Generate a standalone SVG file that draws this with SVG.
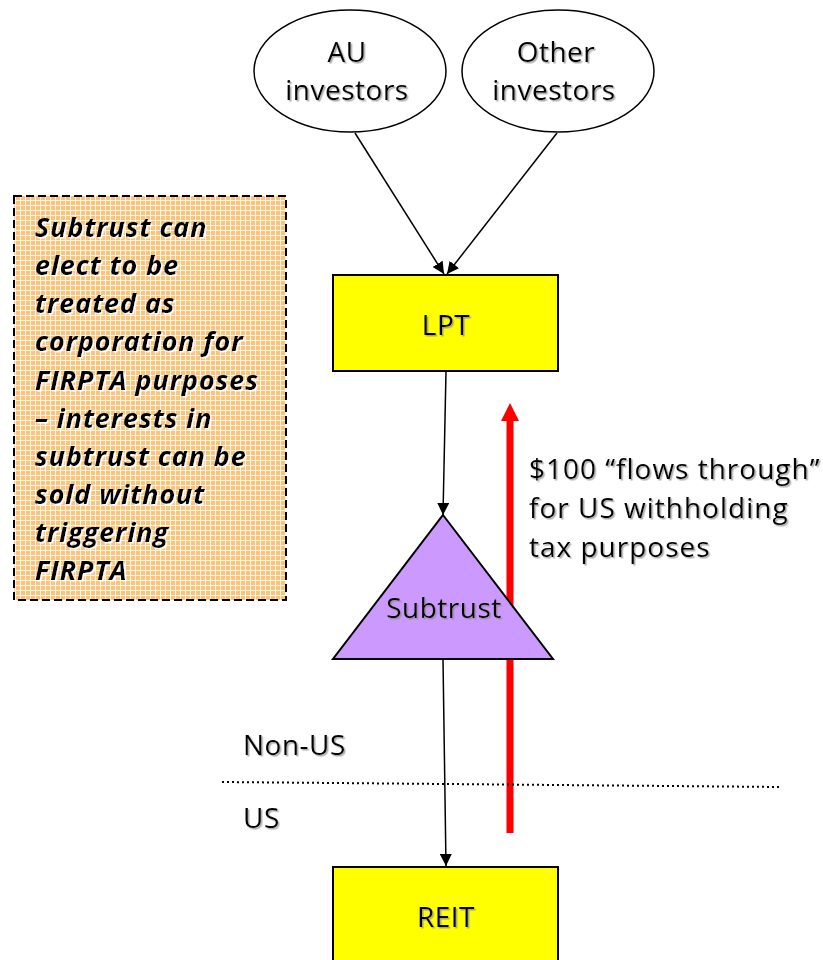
<svg xmlns="http://www.w3.org/2000/svg" width="823" height="960" viewBox="0 0 823 960">
  <defs>
    <style>
      .lbl { font-family: "Open Sans", "Noto Sans", sans-serif; font-size: 28px; letter-spacing: 0.5px; fill: #000; }
      .flow { letter-spacing: 1px; }
      .mid { text-anchor: middle; }
      .note { font-family: "Open Sans", "Noto Sans", sans-serif; font-size: 27px; letter-spacing: 0.9px; font-weight: bold; font-style: italic; fill: #000; }
      .edge { stroke: #000; stroke-width: 1.5; fill: none; }
      .box { stroke: #000; stroke-width: 2; }
    </style>
    <filter id="shadow" x="-10%" y="-20%" width="130%" height="150%">
      <feDropShadow dx="1.5" dy="1.5" stdDeviation="0.6" flood-color="#888" flood-opacity="0.7"/>
    </filter>
    <filter id="halo" x="-10%" y="-20%" width="130%" height="150%">
      <feDropShadow dx="1.5" dy="1.5" stdDeviation="0.4" flood-color="#fff" flood-opacity="1"/>
    </filter>
    <pattern id="grid" width="5" height="5" patternUnits="userSpaceOnUse">
      <rect width="5" height="5" fill="#FBC47C"/>
      <path d="M0 0.5H5M0.5 0V5" stroke="#FFF6E8" stroke-width="1"/>
    </pattern>
    <marker id="arrow" viewBox="0 0 12 12" refX="12" refY="6" markerWidth="12" markerHeight="12" markerUnits="userSpaceOnUse" orient="auto">
      <path d="M0 0L12 6L0 12Z" fill="#000"/>
    </marker>
  </defs>

  <rect width="823" height="960" fill="#fff"/>

  <!-- connectors -->
  <g id="connectors">
    <path class="edge" d="M355 133L444 274" marker-end="url(#arrow)"/>
    <path class="edge" d="M557 133L447 274" marker-end="url(#arrow)"/>
    <path class="edge" d="M446 371L443 515" marker-end="url(#arrow)"/>
    <path class="edge" d="M443 659L446 866" marker-end="url(#arrow)"/>
    <!-- red flow arrow -->
    <path d="M510 833V420" stroke="#FF0000" stroke-width="7" fill="none"/>
    <path d="M501 421L510 403L519 421Z" fill="#FF0000"/>
    <!-- jurisdiction border -->
    <path d="M222 782L780 787" stroke="#000" stroke-width="2" stroke-dasharray="2 3" fill="none"/>
  </g>

  <g id="au-investors">
    <ellipse cx="350" cy="71" rx="96" ry="61" fill="#fff" stroke="#000" stroke-width="1.5"/>
    <text class="lbl mid" x="347" y="62" filter="url(#shadow)">AU</text>
    <text class="lbl mid" x="347" y="100" filter="url(#shadow)">investors</text>
  </g>

  <g id="other-investors">
    <ellipse cx="558" cy="71" rx="96" ry="61" fill="#fff" stroke="#000" stroke-width="1.5"/>
    <text class="lbl mid" x="556" y="62" filter="url(#shadow)">Other</text>
    <text class="lbl mid" x="554" y="100" filter="url(#shadow)">investors</text>
  </g>

  <g id="lpt">
    <rect class="box" x="333" y="275" width="225" height="96" fill="#FFFF00"/>
    <text class="lbl mid" x="446" y="335" filter="url(#shadow)">LPT</text>
  </g>

  <g id="subtrust">
    <path class="box" d="M443 515L553 659H333Z" fill="#CC99FF"/>
    <text class="lbl mid" x="444" y="618" filter="url(#shadow)">Subtrust</text>
  </g>

  <g id="reit">
    <rect class="box" x="333" y="867" width="225" height="100" fill="#FFFF00"/>
    <text class="lbl mid" x="446" y="927" filter="url(#shadow)">REIT</text>
  </g>

  <g id="flow-label">
    <text class="lbl flow" x="529" y="479" filter="url(#shadow)">$100 “flows through”</text>
    <text class="lbl flow" x="529" y="518" filter="url(#shadow)">for US withholding</text>
    <text class="lbl flow" x="529" y="557" filter="url(#shadow)">tax purposes</text>
  </g>

  <g id="region-labels">
    <text class="lbl" x="243" y="755" filter="url(#shadow)">Non-US</text>
    <text class="lbl" x="243" y="828" filter="url(#shadow)">US</text>
  </g>

  <g id="firpta-note">
    <rect x="14" y="196" width="272" height="404" fill="url(#grid)" stroke="#000" stroke-width="2" stroke-dasharray="8 4"/>
    <g class="note" filter="url(#halo)">
      <text x="35" y="237">Subtrust can</text>
      <text x="35" y="275">elect to be</text>
      <text x="35" y="313">treated as</text>
      <text x="35" y="351">corporation for</text>
      <text x="35" y="390">FIRPTA purposes</text>
      <text x="35" y="428">– interests in</text>
      <text x="35" y="466">subtrust can be</text>
      <text x="35" y="504">sold without</text>
      <text x="35" y="542">triggering</text>
      <text x="35" y="580">FIRPTA</text>
    </g>
  </g>
</svg>
